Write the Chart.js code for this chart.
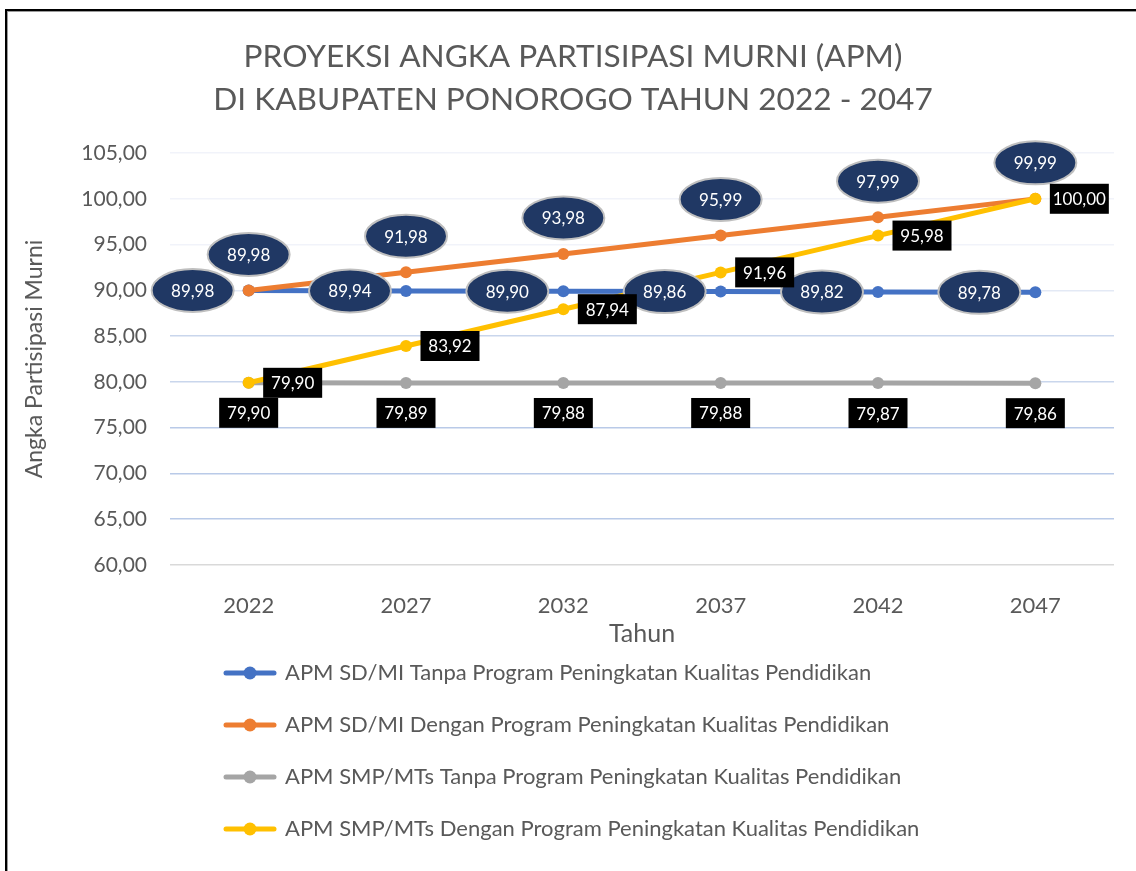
<!DOCTYPE html>
<html>
<head>
<meta charset="utf-8">
<script src="https://cdn.jsdelivr.net/npm/chart.js@4.4.0/dist/chart.umd.min.js"></script>
<style>
html,body{margin:0;padding:0;background:#fff;}
#wrap{position:relative;width:1136px;height:871px;overflow:hidden;}
canvas{position:absolute;left:0;top:0;}
#frame{position:absolute;left:5px;top:9px;width:1200px;height:1000px;border-top:2px solid #000;border-left:2px solid #000;box-shadow:inset 1px 1px 0 #9a9a9a;pointer-events:none;}
</style>
</head>
<body>
<div id="wrap"><canvas id="c" width="1136" height="871"></canvas><div id="frame"></div></div>
<script>
const titleLines = ['PROYEKSI ANGKA PARTISIPASI MURNI (APM)', 'DI KABUPATEN PONOROGO TAHUN 2022 - 2047'];
const years = ['2022', '2027', '2032', '2037', '2042', '2047'];
const seriesNames = [
  'APM SD/MI Tanpa Program Peningkatan Kualitas Pendidikan',
  'APM SD/MI Dengan Program Peningkatan Kualitas Pendidikan',
  'APM SMP/MTs Tanpa Program Peningkatan Kualitas Pendidikan',
  'APM SMP/MTs Dengan Program Peningkatan Kualitas Pendidikan'
];
const sdTanpa = [89.98, 89.94, 89.90, 89.86, 89.82, 89.78];
const sdDengan = [89.98, 91.98, 93.98, 95.99, 97.99, 99.99];
const smpTanpa = [79.90, 79.89, 79.88, 79.88, 79.87, 79.86];
const smpDengan = [79.90, 83.92, 87.94, 91.96, 95.98, 100.00];
const yMin = 60, yMax = 105, yStep = 5;
const xTitle = 'Tahun';
const yTitle = 'Angka Partisipasi Murni';

const colors = ['#4472c4', '#ed7d31', '#a5a5a5', '#ffc000'];
const fmt = v => Number(v).toFixed(2).replace('.', ',');
const FONT = 'Lato';
const TEXT = '#595959';

function makeIcon(color) {
  const c = document.createElement('canvas');
  c.width = 54; c.height = 14;
  const g = c.getContext('2d');
  g.strokeStyle = color; g.lineWidth = 5; g.lineCap = 'round';
  g.beginPath(); g.moveTo(3, 7); g.lineTo(51, 7); g.stroke();
  g.fillStyle = color; g.beginPath(); g.arc(27, 7, 6.5, 0, Math.PI * 2); g.fill();
  return c;
}
const icons = colors.map(makeIcon);

const labelPlugin = {
  id: 'valueLabels',
  afterDatasetsDraw(chart) {
    const ctx = chart.ctx;
    chart.data.datasets.forEach((ds, di) => {
      const meta = chart.getDatasetMeta(di);
      const st = ds.valueLabel;
      meta.data.forEach((pt, i) => {
        const x = pt.x + st.dx, y = pt.y + st.dy;
        ctx.save();
        if (st.shape === 'ellipse') {
          ctx.beginPath();
          ctx.ellipse(x, y, 41, 21.5, 0, 0, Math.PI * 2);
          ctx.fillStyle = '#203864';
          ctx.fill();
          ctx.lineWidth = 2;
          ctx.strokeStyle = '#bfbfbf';
          ctx.stroke();
        } else {
          ctx.fillStyle = '#000';
          ctx.fillRect(x - 29.5, y - 15, 59, 30);
        }
        ctx.fillStyle = '#fff';
        ctx.font = '17px ' + FONT;
        ctx.textAlign = 'center';
        ctx.textBaseline = 'middle';
        ctx.fillText(fmt(ds.data[i]), x, y + 1);
        ctx.restore();
      });
    });
  }
};

const layoutShift = {
  id: 'layoutShift',
  afterLayout(chart) {
    const l = chart.legend;
    if (l) { l.left += 26; l.right += 26; }
    const t = chart.titleBlock;
    if (t) { t.left += 16; t.right += 16; }
  }
};

function gridColor(ctx) {
  const v = ctx.tick ? ctx.tick.value : 0;
  if (v === 60) return '#d9d9d9';
  if (v >= 95) return '#f1f3fa';
  if (v === 90) return '#e3e9f5';
  if (v === 85 || v === 80) return '#c9d6ec';
  return '#b9cae8';
}

const dsBase = (label, data, color, order, valueLabel) => ({
  label, data, borderColor: color, backgroundColor: color,
  borderWidth: 5, pointRadius: 6, pointHoverRadius: 6, pointBorderWidth: 0,
  pointBackgroundColor: color, tension: 0, order, valueLabel
});

new Chart(document.getElementById('c'), {
  type: 'line',
  data: {
    labels: years,
    datasets: [
      dsBase(seriesNames[0], sdTanpa, colors[0], 4, {shape: 'ellipse', dx: -56, dy: 0}),
      dsBase(seriesNames[1], sdDengan, colors[1], 3, {shape: 'ellipse', dx: 0, dy: -36}),
      dsBase(seriesNames[2], smpTanpa, colors[2], 2, {shape: 'rect', dx: 0, dy: 30}),
      dsBase(seriesNames[3], smpDengan, colors[3], 1, {shape: 'rect', dx: 44, dy: 0})
    ]
  },
  options: {
    responsive: false,
    animation: false,
    layout: {padding: {left: 0, right: 22, top: 0, bottom: 21}},
    plugins: {
      tooltip: {enabled: false},
      title: {
        display: true, text: titleLines, color: TEXT,
        font: {family: FONT, size: 31.6, weight: 'normal', lineHeight: 43 / 31.6},
        padding: {top: 35.5, bottom: 31.5}
      },
      legend: {
        position: 'bottom', align: 'start', fullSize: false,
        labels: {
          usePointStyle: true, pointStyleWidth: 48, padding: 30,
          color: TEXT, font: {family: FONT, size: 22},
          sort: (a, b) => a.datasetIndex - b.datasetIndex,
          generateLabels: (chart) => Chart.defaults.plugins.legend.labels.generateLabels(chart)
            .map(it => Object.assign({}, it, {pointStyle: icons[it.datasetIndex]}))
        }
      }
    },
    scales: {
      x: {
        offset: true,
        grid: {display: false},
        border: {display: false},
        ticks: {padding: 19.4, color: TEXT, font: {family: FONT, size: 22}},
        title: {display: true, text: xTitle, color: TEXT, font: {family: FONT, size: 25}, padding: {top: 0, bottom: -17}},
        afterFit(s) { s.height = 67; }
      },
      y: {
        min: yMin, max: yMax,
        ticks: {stepSize: yStep, padding: 23, color: TEXT, font: {family: FONT, size: 21}, callback: v => fmt(v)},
        grid: {color: gridColor, lineWidth: 1.5, drawTicks: false},
        border: {display: false},
        title: {display: true, text: yTitle, color: TEXT, font: {family: FONT, size: 23}, padding: {top: 21.2, bottom: 0}},
        afterFit(s) { s.width = 170; }
      }
    }
  },
  plugins: [labelPlugin, layoutShift]
});
</script>
</body>
</html>
